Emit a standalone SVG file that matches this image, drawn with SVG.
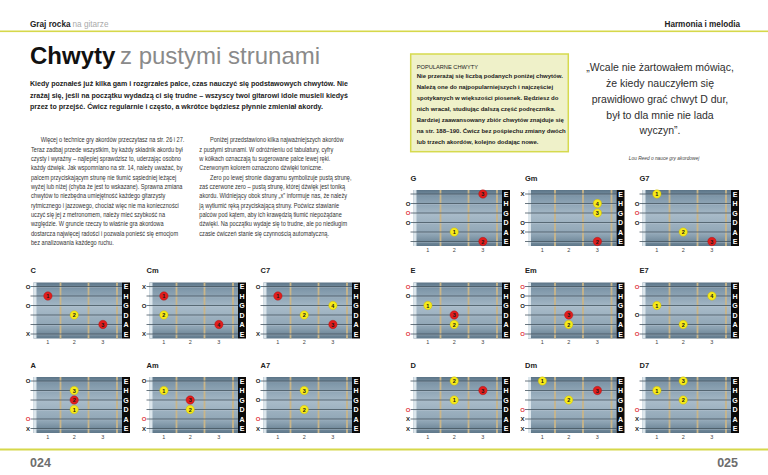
<svg xmlns="http://www.w3.org/2000/svg" width="768" height="475" viewBox="0 0 768 475">
<style>
text{font-family:"Liberation Sans",Arial,sans-serif}
.hb{font-size:8.2px;font-weight:bold;fill:#222}
.hl{font-size:8.2px;fill:#aaa}
.intro{font-size:8px;font-weight:bold;fill:#222}
.body{font-size:6.6px;fill:#333}
.side{font-size:6px;font-weight:bold;fill:#222}
.quote{font-size:10.5px;fill:#2e2e2e;text-anchor:middle}
.pg{font-size:12.5px;font-weight:bold;fill:#6d6d6d}
.lbl{font-size:7.5px;font-weight:bold;fill:#222}
.sl{font-size:7px;font-weight:bold;fill:#fff;text-anchor:middle}
.fn{font-size:5.5px;fill:#444;text-anchor:middle}
.mk{font-size:6px;font-weight:bold;fill:#222;text-anchor:middle}
.mr{fill:#e23b45}
.dr{fill:#e11d1d;stroke:#a31212;stroke-width:0.4}
.dy{fill:#f6ea1a;stroke:#bfae05;stroke-width:0.4}
.dn{font-size:5.5px;font-weight:bold;fill:#1a1a1a;text-anchor:middle}
</style>
<defs>
<linearGradient id="fbg" x1="0" y1="0" x2="0" y2="1">
<stop offset="0" stop-color="#5b7487"/>
<stop offset="0.12" stop-color="#7f97a9"/>
<stop offset="0.45" stop-color="#a7bac8"/>
<stop offset="0.8" stop-color="#8ea4b4"/>
<stop offset="1" stop-color="#5f788a"/>
</linearGradient>
<g id="board">
<rect x="0" y="0" width="88.5" height="56" fill="url(#fbg)"/>
<rect x="0" y="0" width="3" height="56" fill="#dce6ec"/>
<g stroke="#c9b588" stroke-width="1.8">
<line x1="27" y1="0" x2="27" y2="56"/><line x1="55" y1="0" x2="55" y2="56"/><line x1="83.5" y1="0" x2="83.5" y2="56"/>
</g>
<g stroke="#c8d4dc" stroke-width="0.5" opacity="0.7">
<line x1="0" y1="4.8" x2="88.5" y2="4.8"/><line x1="0" y1="14.3" x2="88.5" y2="14.3"/><line x1="0" y1="23.8" x2="88.5" y2="23.8"/><line x1="0" y1="33.3" x2="88.5" y2="33.3"/><line x1="0" y1="42.8" x2="88.5" y2="42.8"/><line x1="0" y1="52.3" x2="88.5" y2="52.3"/>
</g>
<g stroke="#44545f" stroke-width="0.8">
<line x1="-3" y1="4" x2="88.5" y2="4"/><line x1="-3" y1="13.5" x2="88.5" y2="13.5"/><line x1="-3" y1="23" x2="88.5" y2="23"/><line x1="-3" y1="32.5" x2="88.5" y2="32.5"/><line x1="-3" y1="42" x2="88.5" y2="42"/><line x1="-3" y1="51.5" x2="88.5" y2="51.5"/>
</g>
<rect x="88.5" y="0" width="8" height="56" fill="#0a0a0a"/>
</g>
</defs>
<rect width="768" height="475" fill="#fff"/>

<g id="header">
<text class="hb" x="30" y="26.5">Graj rocka</text>
<text class="hl" x="72.5" y="26.5">na gitarze</text>
<text class="hb" x="740" y="26.5" text-anchor="end">Harmonia i melodia</text>
<rect x="0" y="30.5" width="768" height="1.6" fill="#d6d84a"/>
</g>

<g id="title">
<text x="30" y="64" font-size="24" font-weight="bold" fill="#111">Chwyty</text>
<text x="120" y="64" font-size="24" fill="#8a8a8a">z pustymi strunami</text>
</g>

<g id="intro">
<text class="intro" x="30" y="86" textLength="318" lengthAdjust="spacingAndGlyphs">Kiedy poznałeś już kilka gam i rozgrzałeś palce, czas nauczyć się podstawowych chwytów. Nie</text>
<text class="intro" x="30" y="97.5" textLength="318" lengthAdjust="spacingAndGlyphs">zrażaj się, jeśli na początku wydadzą ci się trudne – wszyscy twoi gitarowi idole musieli kiedyś</text>
<text class="intro" x="30" y="109" textLength="293" lengthAdjust="spacingAndGlyphs">przez to przejść. Ćwicz regularnie i często, a wkrótce będziesz płynnie zmieniał akordy.</text>
</g>

<g id="body-left" class="body" transform="translate(31,0) scale(0.85,1)">
<text x="11.4" y="142.5">Więcej o technice gry akordów przeczytasz na str. 26 i 27.</text>
<text x="0" y="151.8">Teraz zadbaj przede wszystkim, by każdy składnik akordu był</text>
<text x="0" y="161.2">czysty i wyraźny – najlepiej sprawdzisz to, uderzając osobno</text>
<text x="0" y="170.5">każdy dźwięk. Jak wspomniano na str. 14, należy uważać, by</text>
<text x="0" y="179.8">palcem przyciskającym strunę nie tłumić sąsiedniej leżącej</text>
<text x="0" y="189.2">wyżej lub niżej (chyba że jest to wskazane). Sprawna zmiana</text>
<text x="0" y="198.5">chwytów to niezbędna umiejętność każdego gitarzysty</text>
<text x="0" y="207.8">rytmicznego i jazzowego, chociaż więc nie ma konieczności</text>
<text x="0" y="217.2">uczyć się jej z metronomem, należy mieć szybkość na</text>
<text x="0" y="226.5">względzie. W gruncie rzeczy to właśnie gra akordowa</text>
<text x="0" y="235.8">dostarcza najwięcej radości i pozwala ponieść się emocjom</text>
<text x="0" y="245.2">bez analizowania każdego ruchu.</text>
</g>

<g id="body-right" class="body" transform="translate(199.3,0) scale(0.85,1)">
<text x="12.6" y="142.5">Poniżej przedstawiono kilka najważniejszych akordów</text>
<text x="0" y="151.8">z pustymi strunami. W odróżnieniu od tabulatury, cyfry</text>
<text x="0" y="161.2">w kółkach oznaczają tu sugerowane palce lewej ręki.</text>
<text x="0" y="170.5">Czerwonym kolorem oznaczono dźwięki toniczne.</text>
<text x="12.6" y="179.8">Zero po lewej stronie diagramu symbolizuje pustą strunę,</text>
<text x="0" y="189.2">zaś czerwone zero – pustą strunę, której dźwięk jest toniką</text>
<text x="0" y="198.5">akordu. Widniejący obok struny „x” informuje nas, że należy</text>
<text x="0" y="207.8">ją wytłumić ręką przyciskającą struny. Poćwicz stawianie</text>
<text x="0" y="217.2">palców pod kątem, aby ich krawędzią tłumić niepożądane</text>
<text x="0" y="226.5">dźwięki. Na początku wydaje się to trudne, ale po niedługim</text>
<text x="0" y="235.8">czasie ćwiczeń stanie się czynnością automatyczną.</text>
</g>

<g id="sidebar">
<rect x="410.7" y="54" width="157.6" height="97.7" fill="#eff1c9" stroke="#d6da4e" stroke-width="1.5"/>
<text x="416.7" y="69" font-size="5.7" fill="#222">POPULARNE CHWYTY</text>
<text class="side" x="416.7" y="78.3">Nie przerażaj się liczbą podanych poniżej chwytów.</text>
<text class="side" x="416.7" y="89">Należą one do najpopularniejszych i najczęściej</text>
<text class="side" x="416.7" y="99.7">spotykanych w większości piosenek. Będziesz do</text>
<text class="side" x="416.7" y="111">nich wracał, studiując dalszą część podręcznika.</text>
<text class="side" x="416.7" y="122">Bardziej zaawansowany zbiór chwytów znajduje się</text>
<text class="side" x="416.7" y="132.7">na str. 188–190. Ćwicz bez pośpiechu zmiany dwóch</text>
<text class="side" x="416.7" y="143.7">lub trzech akordów, kolejno dodając nowe.</text>
</g>

<g id="quote">
<text class="quote" x="660" y="71">„Wcale nie żartowałem mówiąc,</text>
<text class="quote" x="660" y="86.5">że kiedy nauczyłem się</text>
<text class="quote" x="660" y="102.5">prawidłowo grać chwyt D dur,</text>
<text class="quote" x="660" y="118.5">był to dla mnie nie lada</text>
<text class="quote" x="660" y="134">wyczyn”.</text>
<text x="664" y="159.5" font-size="4.8" font-style="italic" fill="#444" text-anchor="middle">Lou Reed o nauce gry akordowej</text>
</g>

<g id="chord-G" transform="translate(413.5,190)">
<use href="#board"/>
<text class="lbl" x="-3" y="-9.5">G</text>
<text class="sl"><tspan x="92.5" y="6.5">E</tspan><tspan x="92.5" y="16">H</tspan><tspan x="92.5" y="25.5">G</tspan><tspan x="92.5" y="35">D</tspan><tspan x="92.5" y="44.5">A</tspan><tspan x="92.5" y="54">E</tspan></text>
<text class="fn"><tspan x="14.4" y="61.5">1</tspan><tspan x="40.7" y="61.5">2</tspan><tspan x="69.4" y="61.5">3</tspan></text>
<text class="mk" x="-5.5" y="15.7">O</text><text class="mk mr" x="-5.5" y="25.2">O</text><text class="mk" x="-5.5" y="34.7">O</text>
<circle class="dr" cx="69.4" cy="4" r="4.2"/><text class="dn" x="69.4" y="6">3</text>
<circle class="dy" cx="40.7" cy="42" r="4.2"/><text class="dn" x="40.7" y="44">1</text>
<circle class="dr" cx="69.4" cy="51.5" r="4.2"/><text class="dn" x="69.4" y="53.5">2</text>
</g>

<g id="chord-Gm" transform="translate(528,190)">
<use href="#board"/>
<text class="lbl" x="-3" y="-9.5">Gm</text>
<text class="sl"><tspan x="92.5" y="6.5">E</tspan><tspan x="92.5" y="16">H</tspan><tspan x="92.5" y="25.5">G</tspan><tspan x="92.5" y="35">D</tspan><tspan x="92.5" y="44.5">A</tspan><tspan x="92.5" y="54">E</tspan></text>
<text class="fn"><tspan x="14.4" y="61.5">1</tspan><tspan x="40.7" y="61.5">2</tspan><tspan x="69.4" y="61.5">3</tspan></text>
<text class="mk" x="-5.5" y="6.2">X</text><text class="mk" x="-5.5" y="34.7">O</text><text class="mk" x="-5.5" y="44.2">X</text>
<circle class="dy" cx="69.4" cy="13.5" r="4.2"/><text class="dn" x="69.4" y="15.5">4</text>
<circle class="dy" cx="69.4" cy="23" r="4.2"/><text class="dn" x="69.4" y="25">3</text>
<circle class="dr" cx="69.4" cy="51.5" r="4.2"/><text class="dn" x="69.4" y="53.5">2</text>
</g>

<g id="chord-G7" transform="translate(642.5,190)">
<use href="#board"/>
<text class="lbl" x="-3" y="-9.5">G7</text>
<text class="sl"><tspan x="92.5" y="6.5">E</tspan><tspan x="92.5" y="16">H</tspan><tspan x="92.5" y="25.5">G</tspan><tspan x="92.5" y="35">D</tspan><tspan x="92.5" y="44.5">A</tspan><tspan x="92.5" y="54">E</tspan></text>
<text class="fn"><tspan x="14.4" y="61.5">1</tspan><tspan x="40.7" y="61.5">2</tspan><tspan x="69.4" y="61.5">3</tspan></text>
<text class="mk" x="-5.5" y="15.7">O</text><text class="mk mr" x="-5.5" y="25.2">O</text><text class="mk" x="-5.5" y="34.7">O</text>
<circle class="dy" cx="14.4" cy="4" r="4.2"/><text class="dn" x="14.4" y="6">1</text>
<circle class="dy" cx="40.7" cy="42" r="4.2"/><text class="dn" x="40.7" y="44">2</text>
<circle class="dr" cx="69.4" cy="51.5" r="4.2"/><text class="dn" x="69.4" y="53.5">3</text>
</g>

<g id="chord-C" transform="translate(33.5,282.5)">
<use href="#board"/>
<text class="lbl" x="-3" y="-9.5">C</text>
<text class="sl"><tspan x="92.5" y="6.5">E</tspan><tspan x="92.5" y="16">H</tspan><tspan x="92.5" y="25.5">G</tspan><tspan x="92.5" y="35">D</tspan><tspan x="92.5" y="44.5">A</tspan><tspan x="92.5" y="54">E</tspan></text>
<text class="fn"><tspan x="14.4" y="61.5">1</tspan><tspan x="40.7" y="61.5">2</tspan><tspan x="69.4" y="61.5">3</tspan></text>
<text class="mk" x="-5.5" y="6.2">O</text><text class="mk" x="-5.5" y="25.2">O</text><text class="mk" x="-5.5" y="53.7">X</text>
<circle class="dr" cx="14.4" cy="13.5" r="4.2"/><text class="dn" x="14.4" y="15.5">1</text>
<circle class="dy" cx="40.7" cy="32.5" r="4.2"/><text class="dn" x="40.7" y="34.5">2</text>
<circle class="dr" cx="69.4" cy="42" r="4.2"/><text class="dn" x="69.4" y="44">3</text>
</g>

<g id="chord-Cm" transform="translate(149.5,282.5)">
<use href="#board"/>
<text class="lbl" x="-3" y="-9.5">Cm</text>
<text class="sl"><tspan x="92.5" y="6.5">E</tspan><tspan x="92.5" y="16">H</tspan><tspan x="92.5" y="25.5">G</tspan><tspan x="92.5" y="35">D</tspan><tspan x="92.5" y="44.5">A</tspan><tspan x="92.5" y="54">E</tspan></text>
<text class="fn"><tspan x="14.4" y="61.5">1</tspan><tspan x="40.7" y="61.5">2</tspan><tspan x="69.4" y="61.5">3</tspan></text>
<text class="mk" x="-5.5" y="6.2">X</text><text class="mk" x="-5.5" y="25.2">O</text><text class="mk" x="-5.5" y="53.7">X</text>
<circle class="dr" cx="14.4" cy="13.5" r="4.2"/><text class="dn" x="14.4" y="15.5">1</text>
<circle class="dy" cx="14.4" cy="32.5" r="4.2"/><text class="dn" x="14.4" y="34.5">2</text>
<circle class="dr" cx="69.4" cy="42" r="4.2"/><text class="dn" x="69.4" y="44">4</text>
</g>

<g id="chord-C7" transform="translate(263.5,282.5)">
<use href="#board"/>
<text class="lbl" x="-3" y="-9.5">C7</text>
<text class="sl"><tspan x="92.5" y="6.5">E</tspan><tspan x="92.5" y="16">H</tspan><tspan x="92.5" y="25.5">G</tspan><tspan x="92.5" y="35">D</tspan><tspan x="92.5" y="44.5">A</tspan><tspan x="92.5" y="54">E</tspan></text>
<text class="fn"><tspan x="14.4" y="61.5">1</tspan><tspan x="40.7" y="61.5">2</tspan><tspan x="69.4" y="61.5">3</tspan></text>
<text class="mk" x="-5.5" y="6.2">O</text><text class="mk" x="-5.5" y="53.7">X</text>
<circle class="dr" cx="14.4" cy="13.5" r="4.2"/><text class="dn" x="14.4" y="15.5">1</text>
<circle class="dy" cx="69.4" cy="23" r="4.2"/><text class="dn" x="69.4" y="25">4</text>
<circle class="dy" cx="40.7" cy="32.5" r="4.2"/><text class="dn" x="40.7" y="34.5">2</text>
<circle class="dr" cx="69.4" cy="42" r="4.2"/><text class="dn" x="69.4" y="44">3</text>
</g>

<g id="chord-E" transform="translate(413.5,282.5)">
<use href="#board"/>
<text class="lbl" x="-3" y="-9.5">E</text>
<text class="sl"><tspan x="92.5" y="6.5">E</tspan><tspan x="92.5" y="16">H</tspan><tspan x="92.5" y="25.5">G</tspan><tspan x="92.5" y="35">D</tspan><tspan x="92.5" y="44.5">A</tspan><tspan x="92.5" y="54">E</tspan></text>
<text class="fn"><tspan x="14.4" y="61.5">1</tspan><tspan x="40.7" y="61.5">2</tspan><tspan x="69.4" y="61.5">3</tspan></text>
<text class="mk mr" x="-5.5" y="6.2">O</text><text class="mk" x="-5.5" y="15.7">O</text><text class="mk mr" x="-5.5" y="53.7">O</text>
<circle class="dy" cx="14.4" cy="23" r="4.2"/><text class="dn" x="14.4" y="25">1</text>
<circle class="dr" cx="40.7" cy="32.5" r="4.2"/><text class="dn" x="40.7" y="34.5">3</text>
<circle class="dy" cx="40.7" cy="42" r="4.2"/><text class="dn" x="40.7" y="44">2</text>
</g>

<g id="chord-Em" transform="translate(528,282.5)">
<use href="#board"/>
<text class="lbl" x="-3" y="-9.5">Em</text>
<text class="sl"><tspan x="92.5" y="6.5">E</tspan><tspan x="92.5" y="16">H</tspan><tspan x="92.5" y="25.5">G</tspan><tspan x="92.5" y="35">D</tspan><tspan x="92.5" y="44.5">A</tspan><tspan x="92.5" y="54">E</tspan></text>
<text class="fn"><tspan x="14.4" y="61.5">1</tspan><tspan x="40.7" y="61.5">2</tspan><tspan x="69.4" y="61.5">3</tspan></text>
<text class="mk mr" x="-5.5" y="6.2">O</text><text class="mk" x="-5.5" y="15.7">O</text><text class="mk" x="-5.5" y="25.2">O</text><text class="mk mr" x="-5.5" y="53.7">O</text>
<circle class="dr" cx="40.7" cy="32.5" r="4.2"/><text class="dn" x="40.7" y="34.5">3</text>
<circle class="dy" cx="40.7" cy="42" r="4.2"/><text class="dn" x="40.7" y="44">2</text>
</g>

<g id="chord-E7" transform="translate(642.5,282.5)">
<use href="#board"/>
<text class="lbl" x="-3" y="-9.5">E7</text>
<text class="sl"><tspan x="92.5" y="6.5">E</tspan><tspan x="92.5" y="16">H</tspan><tspan x="92.5" y="25.5">G</tspan><tspan x="92.5" y="35">D</tspan><tspan x="92.5" y="44.5">A</tspan><tspan x="92.5" y="54">E</tspan></text>
<text class="fn"><tspan x="14.4" y="61.5">1</tspan><tspan x="40.7" y="61.5">2</tspan><tspan x="69.4" y="61.5">3</tspan></text>
<text class="mk mr" x="-5.5" y="6.2">O</text><text class="mk" x="-5.5" y="34.7">O</text><text class="mk mr" x="-5.5" y="53.7">O</text>
<circle class="dy" cx="69.4" cy="13.5" r="4.2"/><text class="dn" x="69.4" y="15.5">4</text>
<circle class="dy" cx="14.4" cy="23" r="4.2"/><text class="dn" x="14.4" y="25">1</text>
<circle class="dy" cx="40.7" cy="42" r="4.2"/><text class="dn" x="40.7" y="44">2</text>
</g>

<g id="chord-A" transform="translate(33.5,377)">
<use href="#board"/>
<text class="lbl" x="-3" y="-9.5">A</text>
<text class="sl"><tspan x="92.5" y="6.5">E</tspan><tspan x="92.5" y="16">H</tspan><tspan x="92.5" y="25.5">G</tspan><tspan x="92.5" y="35">D</tspan><tspan x="92.5" y="44.5">A</tspan><tspan x="92.5" y="54">E</tspan></text>
<text class="fn"><tspan x="14.4" y="61.5">1</tspan><tspan x="40.7" y="61.5">2</tspan><tspan x="69.4" y="61.5">3</tspan></text>
<text class="mk" x="-5.5" y="6.2">O</text><text class="mk mr" x="-5.5" y="44.2">O</text><text class="mk" x="-5.5" y="53.7">X</text>
<circle class="dy" cx="40.7" cy="13.5" r="4.2"/><text class="dn" x="40.7" y="15.5">3</text>
<circle class="dr" cx="40.7" cy="23" r="4.2"/><text class="dn" x="40.7" y="25">2</text>
<circle class="dy" cx="40.7" cy="32.5" r="4.2"/><text class="dn" x="40.7" y="34.5">1</text>
</g>

<g id="chord-Am" transform="translate(149.5,377)">
<use href="#board"/>
<text class="lbl" x="-3" y="-9.5">Am</text>
<text class="sl"><tspan x="92.5" y="6.5">E</tspan><tspan x="92.5" y="16">H</tspan><tspan x="92.5" y="25.5">G</tspan><tspan x="92.5" y="35">D</tspan><tspan x="92.5" y="44.5">A</tspan><tspan x="92.5" y="54">E</tspan></text>
<text class="fn"><tspan x="14.4" y="61.5">1</tspan><tspan x="40.7" y="61.5">2</tspan><tspan x="69.4" y="61.5">3</tspan></text>
<text class="mk" x="-5.5" y="6.2">O</text><text class="mk mr" x="-5.5" y="44.2">O</text><text class="mk" x="-5.5" y="53.7">X</text>
<circle class="dy" cx="14.4" cy="13.5" r="4.2"/><text class="dn" x="14.4" y="15.5">1</text>
<circle class="dr" cx="40.7" cy="23" r="4.2"/><text class="dn" x="40.7" y="25">3</text>
<circle class="dy" cx="40.7" cy="32.5" r="4.2"/><text class="dn" x="40.7" y="34.5">2</text>
</g>

<g id="chord-A7" transform="translate(263.5,377)">
<use href="#board"/>
<text class="lbl" x="-3" y="-9.5">A7</text>
<text class="sl"><tspan x="92.5" y="6.5">E</tspan><tspan x="92.5" y="16">H</tspan><tspan x="92.5" y="25.5">G</tspan><tspan x="92.5" y="35">D</tspan><tspan x="92.5" y="44.5">A</tspan><tspan x="92.5" y="54">E</tspan></text>
<text class="fn"><tspan x="14.4" y="61.5">1</tspan><tspan x="40.7" y="61.5">2</tspan><tspan x="69.4" y="61.5">3</tspan></text>
<text class="mk" x="-5.5" y="6.2">O</text><text class="mk" x="-5.5" y="25.2">O</text><text class="mk mr" x="-5.5" y="44.2">O</text><text class="mk" x="-5.5" y="53.7">X</text>
<circle class="dy" cx="40.7" cy="13.5" r="4.2"/><text class="dn" x="40.7" y="15.5">3</text>
<circle class="dy" cx="40.7" cy="32.5" r="4.2"/><text class="dn" x="40.7" y="34.5">2</text>
</g>

<g id="chord-D" transform="translate(413.5,377)">
<use href="#board"/>
<text class="lbl" x="-3" y="-9.5">D</text>
<text class="sl"><tspan x="92.5" y="6.5">E</tspan><tspan x="92.5" y="16">H</tspan><tspan x="92.5" y="25.5">G</tspan><tspan x="92.5" y="35">D</tspan><tspan x="92.5" y="44.5">A</tspan><tspan x="92.5" y="54">E</tspan></text>
<text class="fn"><tspan x="14.4" y="61.5">1</tspan><tspan x="40.7" y="61.5">2</tspan><tspan x="69.4" y="61.5">3</tspan></text>
<text class="mk mr" x="-5.5" y="34.7">O</text><text class="mk" x="-5.5" y="44.2">X</text><text class="mk" x="-5.5" y="53.7">X</text>
<circle class="dy" cx="40.7" cy="4" r="4.2"/><text class="dn" x="40.7" y="6">2</text>
<circle class="dr" cx="69.4" cy="13.5" r="4.2"/><text class="dn" x="69.4" y="15.5">3</text>
<circle class="dy" cx="40.7" cy="23" r="4.2"/><text class="dn" x="40.7" y="25">1</text>
</g>

<g id="chord-Dm" transform="translate(528,377)">
<use href="#board"/>
<text class="lbl" x="-3" y="-9.5">Dm</text>
<text class="sl"><tspan x="92.5" y="6.5">E</tspan><tspan x="92.5" y="16">H</tspan><tspan x="92.5" y="25.5">G</tspan><tspan x="92.5" y="35">D</tspan><tspan x="92.5" y="44.5">A</tspan><tspan x="92.5" y="54">E</tspan></text>
<text class="fn"><tspan x="14.4" y="61.5">1</tspan><tspan x="40.7" y="61.5">2</tspan><tspan x="69.4" y="61.5">3</tspan></text>
<text class="mk mr" x="-5.5" y="34.7">O</text><text class="mk" x="-5.5" y="44.2">X</text><text class="mk" x="-5.5" y="53.7">X</text>
<circle class="dy" cx="14.4" cy="4" r="4.2"/><text class="dn" x="14.4" y="6">1</text>
<circle class="dr" cx="69.4" cy="13.5" r="4.2"/><text class="dn" x="69.4" y="15.5">3</text>
<circle class="dy" cx="40.7" cy="23" r="4.2"/><text class="dn" x="40.7" y="25">2</text>
</g>

<g id="chord-D7" transform="translate(642.5,377)">
<use href="#board"/>
<text class="lbl" x="-3" y="-9.5">D7</text>
<text class="sl"><tspan x="92.5" y="6.5">E</tspan><tspan x="92.5" y="16">H</tspan><tspan x="92.5" y="25.5">G</tspan><tspan x="92.5" y="35">D</tspan><tspan x="92.5" y="44.5">A</tspan><tspan x="92.5" y="54">E</tspan></text>
<text class="fn"><tspan x="14.4" y="61.5">1</tspan><tspan x="40.7" y="61.5">2</tspan><tspan x="69.4" y="61.5">3</tspan></text>
<text class="mk mr" x="-5.5" y="34.7">O</text><text class="mk" x="-5.5" y="44.2">X</text><text class="mk" x="-5.5" y="53.7">X</text>
<circle class="dy" cx="40.7" cy="4" r="4.2"/><text class="dn" x="40.7" y="6">3</text>
<circle class="dy" cx="14.4" cy="13.5" r="4.2"/><text class="dn" x="14.4" y="15.5">1</text>
<circle class="dy" cx="40.7" cy="23" r="4.2"/><text class="dn" x="40.7" y="25">2</text>
</g>

<g id="footer">
<rect x="0" y="448.5" width="768" height="2" fill="#d6d84a"/>
<text class="pg" x="30" y="467">024</text>
<text class="pg" x="738" y="467" text-anchor="end">025</text>
</g>
</svg>
